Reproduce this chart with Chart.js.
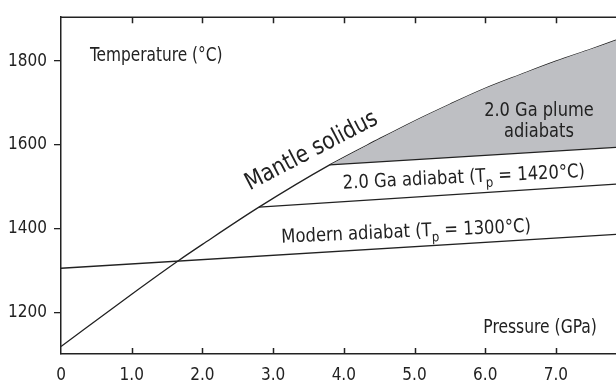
<!DOCTYPE html>
<html lang="en">
<head>
<meta charset="UTF-8">
<title>Mantle solidus and adiabats</title>
<style>
    body { margin: 0; background: #fff; }
    #wrap { width: 616px; height: 382px; position: relative; }
</style>
</head>
<body>
<div id="wrap"><canvas id="chart"></canvas></div>
<script src="https://cdn.jsdelivr.net/npm/chart.js"></script>
<script>
    // Pressure (GPa) / temperature (°C) pairs
    var solidusP = [0, 1.0, 1.66, 2.0, 2.8, 3.8, 4.5, 5.0, 5.5, 6.0, 6.5, 7.0, 7.5, 7.85];
    var solidusT = [1118, 1243, 1323, 1362, 1451, 1552, 1614, 1657, 1697, 1735, 1768, 1800, 1829, 1850];

    var modernP = [0, 7.85];
    var modernT = [1305, 1386];

    var ga20P = [2.8, 7.85];
    var ga20T = [1451, 1506];

    var plumeP = [3.8, 7.85];
    var plumeT = [1552, 1594];

    var xTicks = [0, 1, 2, 3, 4, 5, 6, 7];
    var xTickLabels = ['0', '1.0', '2.0', '3.0', '4.0', '5.0', '6.0', '7.0'];
    var yTicks = [1200, 1400, 1600, 1800];
    var yTickLabels = ['1200', '1400', '1600', '1800'];

    var FONT = '"DejaVu Sans Condensed", "DejaVu Sans", sans-serif';
    var INK = '#222';
    var GREY = '#bebfc3';

    function pts(px, ty) {
        return px.map(function (p, i) { return {x: p, y: ty[i]}; });
    }

    // solidus points above the start of the plume field, used for the grey fill
    var plumeTop = pts(solidusP, solidusT).filter(function (d) { return d.x >= plumeP[0]; });

    function lineSet(data, extra) {
        var ds = {
            data: data,
            borderColor: INK,
            borderWidth: 1.3,
            pointRadius: 0,
            fill: false
        };
        for (var k in extra) ds[k] = extra[k];
        return ds;
    }

    // text pieces in a row; sub pieces are smaller and lowered
    function drawRuns(ctx, runs, size, align) {
        var total = 0;
        runs.forEach(function (r) {
            ctx.font = (r.sub ? size * 0.72 : size) + 'px ' + FONT;
            total += ctx.measureText(r.t).width;
        });
        var x = align === 'center' ? -total / 2 : align === 'right' ? -total : 0;
        ctx.textAlign = 'left';
        runs.forEach(function (r) {
            var s = r.sub ? size * 0.72 : size;
            ctx.font = s + 'px ' + FONT;
            ctx.fillText(r.t, x, r.sub ? size * 0.28 : 0);
            x += ctx.measureText(r.t).width;
        });
    }

    var notes = [
        {runs: [{t: 'Temperature (°C)'}], p: 0.41, t: 1800, size: 19, sx: 0.9, align: 'left', angle: 0},
        {runs: [{t: 'Pressure (GPa)'}], p: 7.58, t: 1150, size: 19, sx: 0.91, align: 'right', angle: 0},
        {runs: [{t: '2.0 Ga plume'}], p: 6.76, t: 1670, size: 19, sx: 0.95, align: 'center', angle: 0},
        {runs: [{t: 'adiabats'}], p: 6.76, t: 1619, size: 19, sx: 0.95, align: 'center', angle: 0},
        {runs: [{t: 'Mantle solidus'}], p: 2.67, t: 1491, size: 24, sx: 0.94, align: 'left', angle: -27.5},
        {runs: [{t: '2.0 Ga adiabat (T'}, {t: 'p', sub: true}, {t: ' = 1420°C)'}], p: 3.99, t: 1495, size: 19, sx: 0.96, align: 'left', angle: -2.8},
        {runs: [{t: 'Modern adiabat (T'}, {t: 'p', sub: true}, {t: ' = 1300°C)'}], p: 3.12, t: 1366, size: 19, sx: 0.96, align: 'left', angle: -2.5}
    ];

    var labels = {
        id: 'labels',
        afterDraw: function (chart) {
            var ctx = chart.ctx, xs = chart.scales.x, ys = chart.scales.y;
            ctx.save();
            ctx.fillStyle = INK;
            ctx.textBaseline = 'alphabetic';
            notes.forEach(function (n) {
                ctx.save();
                ctx.translate(xs.getPixelForValue(n.p), ys.getPixelForValue(n.t));
                ctx.rotate(n.angle * Math.PI / 180);
                ctx.scale(n.sx, 1);
                drawRuns(ctx, n.runs, n.size, n.align);
                ctx.restore();
            });
            ctx.restore();
        }
    };

    // top border plus the inward tick marks on top and bottom
    var frame = {
        id: 'frame',
        afterDraw: function (chart) {
            var ctx = chart.ctx, a = chart.chartArea, xs = chart.scales.x;
            ctx.save();
            ctx.strokeStyle = INK;
            ctx.lineWidth = 1.5;
            ctx.beginPath();
            ctx.moveTo(a.left, a.top);
            ctx.lineTo(a.right, a.top);
            xTicks.forEach(function (v) {
                if (v === 0) return;
                var px = Math.round(xs.getPixelForValue(v)) + 0.5;
                ctx.moveTo(px, a.bottom);
                ctx.lineTo(px, a.bottom - 6);
                ctx.moveTo(px, a.top);
                ctx.lineTo(px, a.top + 6);
            });
            ctx.stroke();
            ctx.restore();
        }
    };

    new Chart(document.getElementById('chart'), {
        type: 'line',
        data: {
            datasets: [
                lineSet(pts(plumeP, plumeT)),
                lineSet(plumeTop, {borderWidth: 0, backgroundColor: GREY, fill: 0, cubicInterpolationMode: 'monotone'}),
                lineSet(pts(solidusP, solidusT), {cubicInterpolationMode: 'monotone'}),
                lineSet(pts(ga20P, ga20T)),
                lineSet(pts(modernP, modernT))
            ]
        },
        options: {
            responsive: true,
            maintainAspectRatio: false,
            animation: false,
            layout: {padding: {top: 14, right: 0, left: 0, bottom: 0}},
            plugins: {legend: {display: false}, tooltip: {enabled: false}},
            scales: {
                x: {
                    type: 'linear',
                    min: 0,
                    max: 7.85,
                    afterBuildTicks: function (s) { s.ticks = xTicks.map(function (v) { return {value: v}; }); },
                    afterFit: function (s) { s.height = 28; },
                    border: {display: true, color: INK, width: 1.5},
                    grid: {drawOnChartArea: false, drawTicks: false},
                    ticks: {
                        color: INK,
                        padding: 11,
                        maxRotation: 0,
                        font: {family: FONT, size: 17},
                        callback: function (v) { return xTickLabels[xTicks.indexOf(v)]; }
                    }
                },
                y: {
                    min: 1100,
                    max: 1905,
                    afterBuildTicks: function (s) { s.ticks = yTicks.map(function (v) { return {value: v}; }); },
                    afterFit: function (s) { s.width = 61; },
                    border: {display: true, color: INK, width: 1.5},
                    grid: {drawOnChartArea: false, drawTicks: true, tickLength: 7, color: INK, lineWidth: 1.3},
                    ticks: {
                        color: INK,
                        padding: 7,
                        font: {family: FONT, size: 17},
                        callback: function (v) { return yTickLabels[yTicks.indexOf(v)]; }
                    }
                }
            }
        },
        plugins: [frame, labels]
    });
</script>
</body>
</html>
